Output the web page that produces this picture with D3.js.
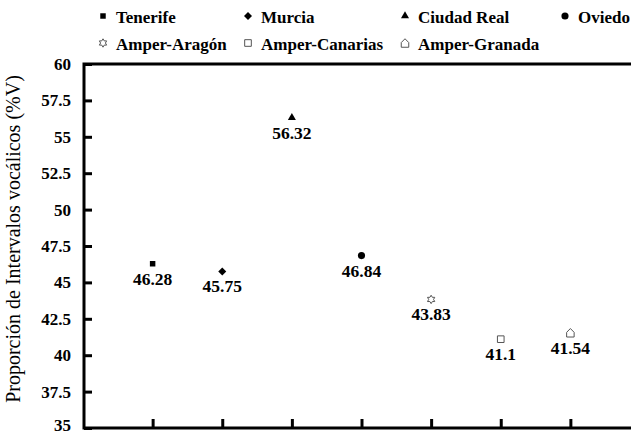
<!DOCTYPE html>
<html>
<head>
<meta charset="utf-8">
<script src="https://cdn.jsdelivr.net/npm/d3@7"></script>
<style>
  html, body { margin: 0; padding: 0; background: #fff; }
  svg { display: block; }
  text { font-family: "Liberation Serif", "Times New Roman", serif; fill: #000; }
</style>
</head>
<body>
<svg id="chart" width="631" height="435"></svg>
<script>
// ---- data ----
const categories = ["Tenerife", "Murcia", "Ciudad Real", "Oviedo", "Amper-Aragón", "Amper-Canarias", "Amper-Granada"];
const values = [46.28, 45.75, 56.32, 46.84, 43.83, 41.1, 41.54];
const valueLabels = ["46.28", "45.75", "56.32", "46.84", "43.83", "41.1", "41.54"];
const yTicks = [35, 37.5, 40, 42.5, 45, 47.5, 50, 52.5, 55, 57.5, 60];
const yTitle = "Proporción de Intervalos vocálicos (%V)";

// ---- layout ----
const svg = d3.select("#chart");
const W = 631, H = 435;
const mLeft = 84, mTop = 64, mBottom = 428, mRight = 640;
const x = d3.scaleLinear().domain([0, categories.length + 1]).range([mLeft - 1, mRight]);
const y = d3.scaleLinear().domain([35, 60]).range([mBottom, mTop]);

// marker definitions (style only)
function hexagram(r) {
  const pts = [];
  for (let i = 0; i < 12; i++) {
    const a = -Math.PI / 2 + i * Math.PI / 6;
    const rr = i % 2 === 0 ? r : r * 0.58;
    pts.push([rr * Math.cos(a), rr * Math.sin(a)]);
  }
  return "M" + pts.map(p => p.join(",")).join("L") + "Z";
}
function house(w, h) {
  const hw = w / 2;
  return `M${-hw},${h/2}L${hw},${h/2}L${hw},${-h*0.05}L0,${-h/2}L${-hw},${-h*0.05}Z`;
}
function diamond(r) {
  return `M0,${-r}L${r},0L0,${r}L${-r},0Z`;
}
const markers = [
  { d: d3.symbol(d3.symbolSquare, 30)(), fill: "#000", stroke: "none" },
  { d: diamond(4), fill: "#000", stroke: "none" },
  { d: d3.symbol(d3.symbolTriangle, 28)(), fill: "#000", stroke: "none" },
  { d: d3.symbol(d3.symbolCircle, 40)(), fill: "#000", stroke: "none" },
  { d: hexagram(4.2), fill: "#fff", stroke: "#555" },
  { d: d3.symbol(d3.symbolSquare, 44)(), fill: "#fff", stroke: "#555" },
  { d: house(7.5, 8.5), fill: "#fff", stroke: "#555" }
];

// ---- y axis (ticks inward) ----
const yAxis = d3.axisRight(y).tickValues(yTicks).tickSize(8).tickFormat("");
const yg = svg.append("g").attr("transform", `translate(${mLeft},0)`).call(yAxis);
yg.select(".domain").remove();
yg.selectAll(".tick line").attr("stroke", "#000").attr("stroke-width", 3);

svg.append("g").selectAll("text").data(yTicks).join("text")
  .attr("x", 71).attr("y", d => Math.min(y(d) + 6, H - 4))
  .attr("text-anchor", "end").attr("font-weight", "bold").attr("font-size", 17)
  .text(d => d);

// ---- x axis ticks (inward) ----
const xAxis = d3.axisTop(x).tickValues(d3.range(1, categories.length + 1)).tickSize(9).tickFormat("");
const xg = svg.append("g").attr("transform", `translate(0,${mBottom})`).call(xAxis);
xg.select(".domain").remove();
xg.selectAll(".tick line").attr("stroke", "#000").attr("stroke-width", 3);

// ---- frame ----
svg.append("path")
  .attr("d", `M${W},${mTop}L${mLeft},${mTop}L${mLeft},${mBottom}L${W},${mBottom}`)
  .attr("fill", "none").attr("stroke", "#000").attr("stroke-width", 3);

// ---- points ----
const pts = svg.append("g").selectAll("g").data(values).join("g")
  .attr("transform", (d, i) => `translate(${x(i + 1)},${y(d)})`);
pts.append("path")
  .attr("d", (d, i) => markers[i].d)
  .attr("fill", (d, i) => markers[i].fill)
  .attr("stroke", (d, i) => markers[i].stroke)
  .attr("stroke-width", 1);
pts.append("text")
  .attr("y", 21).attr("text-anchor", "middle")
  .attr("font-weight", "bold").attr("font-size", 17.5)
  .text((d, i) => valueLabels[i]);

// ---- legend ----
const legX = [103, 248, 405, 565], legY = [16, 43];
const leg = svg.append("g").selectAll("g").data(categories).join("g")
  .attr("transform", (d, i) => `translate(${legX[i % 4]},${legY[Math.floor(i / 4)]})`);
leg.append("path")
  .attr("d", (d, i) => markers[i].d)
  .attr("fill", (d, i) => markers[i].fill)
  .attr("stroke", (d, i) => markers[i].stroke)
  .attr("stroke-width", 1);
leg.append("text")
  .attr("x", 13).attr("y", 7)
  .attr("font-weight", "bold").attr("font-size", 17)
  .text(d => d);

// ---- y title ----
svg.append("text")
  .attr("transform", "translate(20,239) rotate(-90)")
  .attr("text-anchor", "middle").attr("font-size", 20)
  .text(yTitle);
</script>
</body>
</html>
